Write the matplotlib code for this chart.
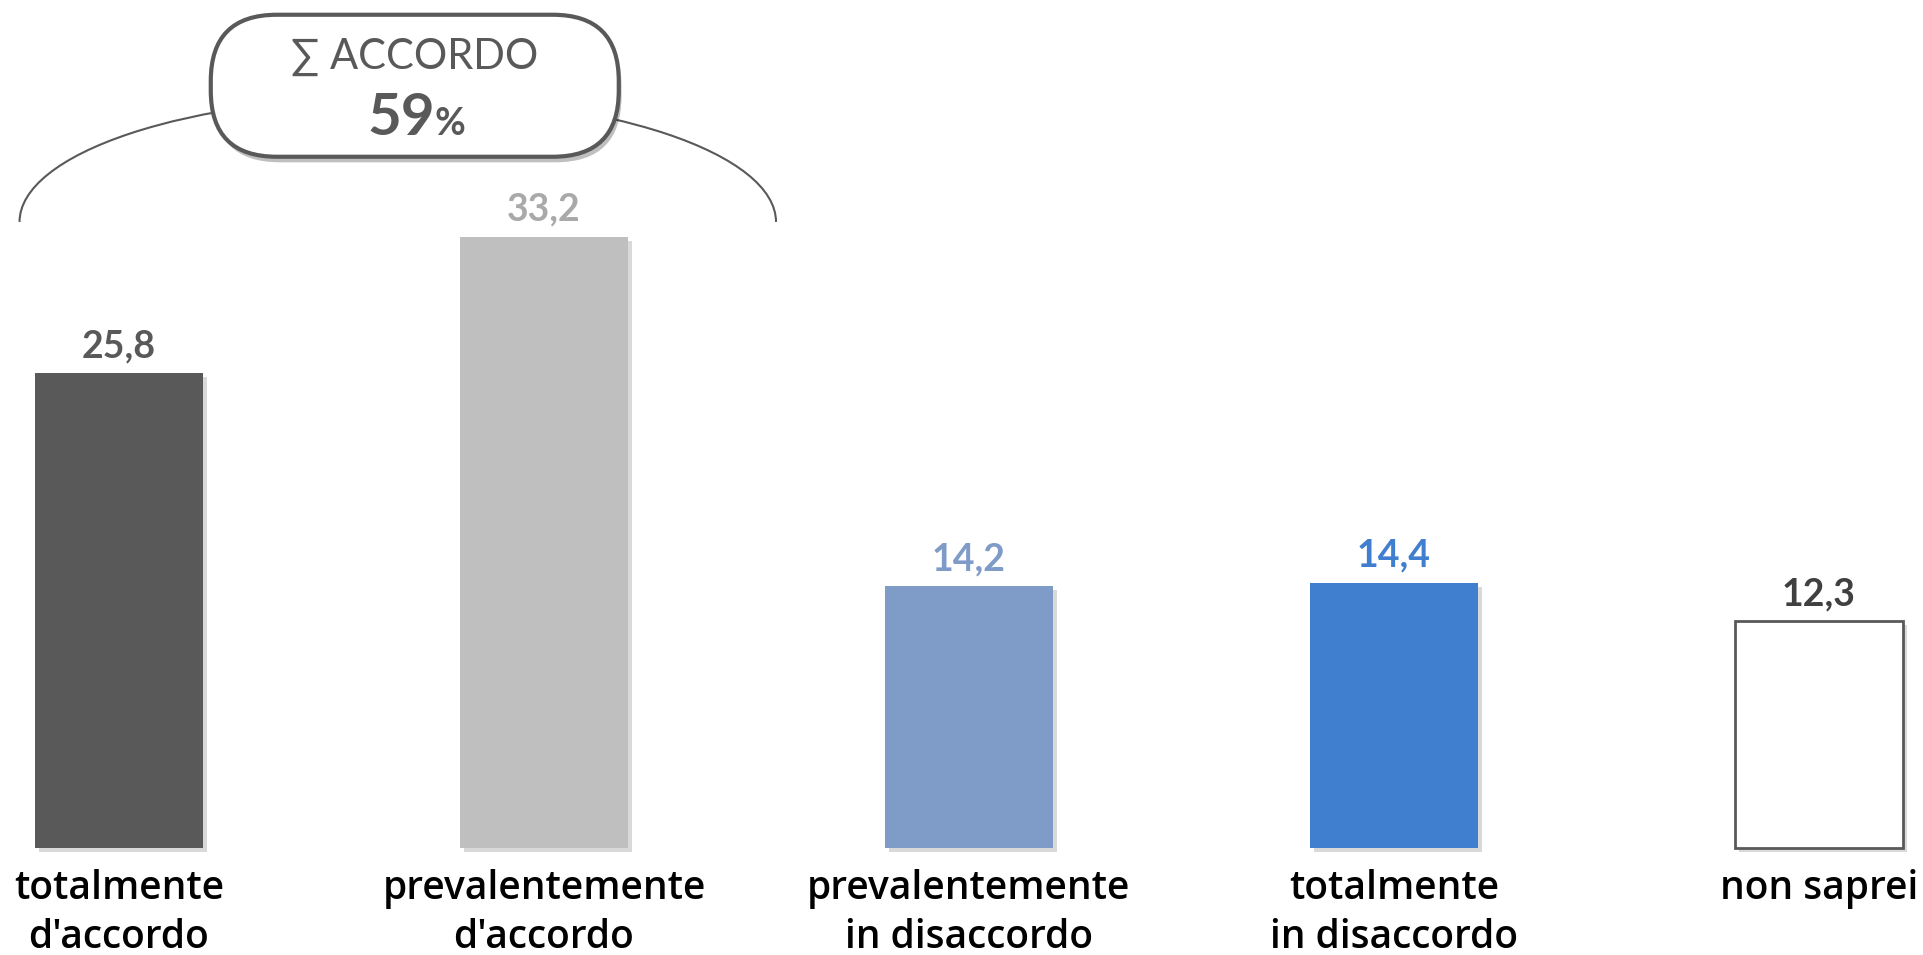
import matplotlib
matplotlib.use("Agg")
import matplotlib.pyplot as plt
from matplotlib.patches import Arc, FancyBboxPatch
from matplotlib.transforms import IdentityTransform
import matplotlib.patheffects as pe

categories = ["totalmente\nd'accordo", "prevalentemente\nd'accordo",
              "prevalentemente\nin disaccordo", "totalmente\nin disaccordo",
              "non saprei"]
values = [25.8, 33.2, 14.2, 14.4, 12.3]
value_labels = ["25,8", "33,2", "14,2", "14,4", "12,3"]
bar_colors = ["#595959", "#BFBFBF", "#7F9CC9", "#407ED0", "#FFFFFF"]
label_colors = ["#595959", "#A9A9A9", "#7F9CC9", "#407ED0", "#404040"]
summary_title = "∑ ACCORDO"
summary_value = "59"
summary_unit = "%"

plt.rcParams['font.family'] = ['Lato', 'DejaVu Sans']

W, H = 1923, 955
fig = plt.figure(figsize=(W / 100, H / 100), dpi=100)
ax = fig.add_axes([0, 0, 1, 1])
ax.set_xlim(-0.28, 4.245)
ax.set_ylim(-5.84, 46.06)
ax.axis('off')

x = list(range(len(values)))
shadow = [pe.SimplePatchShadow(offset=(3, -3), shadow_rgbFace='#000000', alpha=0.15), pe.Normal()]
bars = ax.bar(x, values, width=0.395, color=bar_colors, zorder=2)
for i, b in enumerate(bars):
    b.set_path_effects(shadow)
    if bar_colors[i].upper() == "#FFFFFF":
        b.set_edgecolor("#595959")
        b.set_linewidth(2)

for i, (v, lab) in enumerate(zip(values, value_labels)):
    ax.annotate(lab, (x[i], v), xytext=(0, 7), textcoords='offset points',
                ha='center', va='bottom', fontsize=27, fontweight='bold',
                color=label_colors[i])

for i, cat in enumerate(categories):
    ax.text(x[i], -1.15, cat, ha='center', va='top', fontsize=28,
            color='black', linespacing=1.3, fontweight='semibold',
            family=['Open Sans', 'DejaVu Sans'])

# arc spanning the "accordo" bars
arc_cx = (x[0] + x[1]) / 2 + 0.156
arc = Arc((arc_cx, 34.0), 1.78, 13.6, theta1=0, theta2=180,
          color='#595959', lw=1.5, zorder=3)
ax.add_patch(arc)

# summary bubble
fig.canvas.draw()
cx, cy = ax.transData.transform((arc_cx + 0.04, 41.4))
bw, bh = 408, 142
box = FancyBboxPatch((cx - bw / 2, cy - bh / 2), bw, bh,
                     boxstyle="round,pad=0,rounding_size=66",
                     transform=IdentityTransform(), facecolor='white',
                     edgecolor='#595959', lw=3, zorder=5)
box.set_path_effects([pe.SimplePatchShadow(offset=(2, -4), shadow_rgbFace='#000000', alpha=0.25), pe.Normal()])
fig.add_artist(box)
fig.text(cx / W, (cy + 29) / H, summary_title, ha='center', va='center',
         fontsize=30, color='#595959', zorder=6)
fig.text((cx + 20) / W, (cy - 49) / H, summary_value, ha='right', va='baseline',
         fontsize=42, fontweight='bold', color='#595959', zorder=6)
fig.text((cx + 20) / W, (cy - 49) / H, summary_unit, ha='left', va='baseline',
         fontsize=27, fontweight='bold', color='#595959', zorder=6)

fig.savefig("out.png", dpi=100, facecolor='white')
